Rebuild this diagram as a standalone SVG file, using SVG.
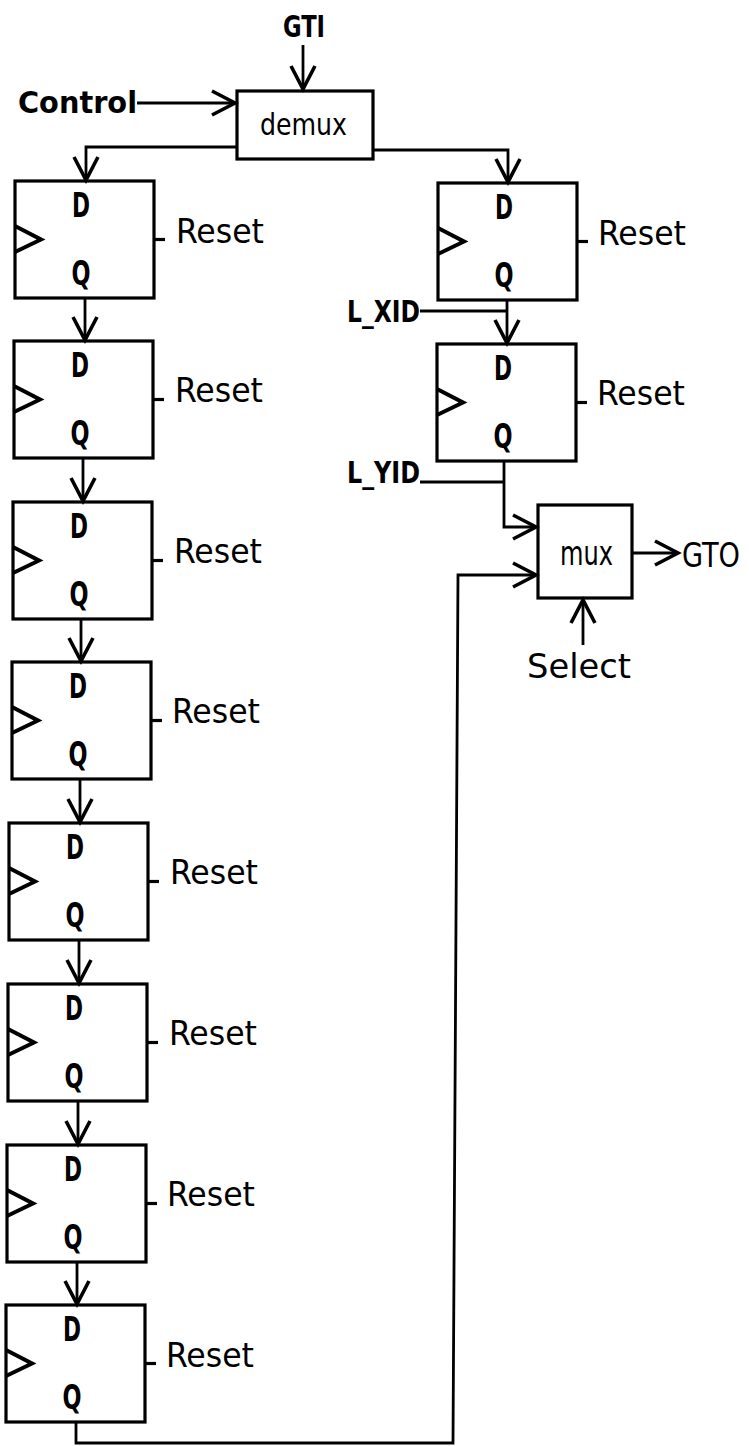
<svg xmlns="http://www.w3.org/2000/svg" width="749" height="1446" viewBox="0 0 749 1446">
<style>
.box{fill:none;stroke:#000;stroke-width:3.2}
.clk{fill:none;stroke:#000;stroke-width:4}
.w{fill:none;stroke:#000;stroke-width:2.8}
.t{font-family:"DejaVu Sans Condensed","DejaVu Sans","Liberation Sans",sans-serif;fill:#000}
.dq{font-size:33px;font-weight:bold;text-anchor:middle}
.rs{font-size:34px}
.lb{font-size:30px;font-weight:bold}
</style>
<defs>
<marker id="ah" markerUnits="userSpaceOnUse" viewBox="-25 -15 30 30" markerWidth="30" markerHeight="30" refX="0" refY="0" orient="auto" overflow="visible">
<path d="M-23,-12 L0,0 L-23,12" fill="none" stroke="#000" stroke-width="3.6"/>
</marker>
<g id="ff">
<rect class="box" x="0" y="0" width="139" height="117"/>
<path class="clk" d="M0,45 L26,58.5 L0,71"/>
<path class="box" d="M139,58.5 H150"/>
<text class="t dq" x="66" y="36" textLength="18" lengthAdjust="spacingAndGlyphs">D</text>
<text class="t dq" x="66" y="104" textLength="19" lengthAdjust="spacingAndGlyphs">Q</text>
</g>
</defs>

<g id="input-labels">
<text class="t lb" x="283" y="37" textLength="42" lengthAdjust="spacingAndGlyphs">GTI</text>
<text class="t lb" x="18" y="113" font-size="32" textLength="119" lengthAdjust="spacingAndGlyphs">Control</text>
</g>

<g id="demux">
<rect class="box" x="237" y="91" width="136" height="68"/>
<text class="t" x="260" y="135" font-size="30" textLength="87" lengthAdjust="spacingAndGlyphs">demux</text>
</g>

<g id="ff1"><use href="#ff" x="15" y="181"/><text class="t rs" x="176" y="243" textLength="88" lengthAdjust="spacingAndGlyphs">Reset</text></g>
<g id="ff2"><use href="#ff" x="14" y="341"/><text class="t rs" x="175" y="402" textLength="88" lengthAdjust="spacingAndGlyphs">Reset</text></g>
<g id="ff3"><use href="#ff" x="13" y="502"/><text class="t rs" x="174" y="563" textLength="88" lengthAdjust="spacingAndGlyphs">Reset</text></g>
<g id="ff4"><use href="#ff" x="12" y="662"/><text class="t rs" x="172" y="723" textLength="88" lengthAdjust="spacingAndGlyphs">Reset</text></g>
<g id="ff5"><use href="#ff" x="9" y="823"/><text class="t rs" x="170" y="884" textLength="88" lengthAdjust="spacingAndGlyphs">Reset</text></g>
<g id="ff6"><use href="#ff" x="8" y="984"/><text class="t rs" x="169" y="1045" textLength="88" lengthAdjust="spacingAndGlyphs">Reset</text></g>
<g id="ff7"><use href="#ff" x="7" y="1145"/><text class="t rs" x="167" y="1206" textLength="88" lengthAdjust="spacingAndGlyphs">Reset</text></g>
<g id="ff8"><use href="#ff" x="6" y="1305"/><text class="t rs" x="166" y="1367" textLength="88" lengthAdjust="spacingAndGlyphs">Reset</text></g>

<g id="ffR1"><use href="#ff" x="438" y="183"/><text class="t rs" x="598" y="245" textLength="88" lengthAdjust="spacingAndGlyphs">Reset</text></g>
<g id="ffR2"><use href="#ff" x="437" y="344"/><text class="t rs" x="597" y="405" textLength="88" lengthAdjust="spacingAndGlyphs">Reset</text></g>

<g id="mux">
<rect class="box" x="538" y="505" width="94" height="93"/>
<text class="t" x="560" y="565" font-size="33" textLength="53" lengthAdjust="spacingAndGlyphs">mux</text>
</g>

<g id="side-labels">
<text class="t lb" x="347" y="322" font-size="27" textLength="73" lengthAdjust="spacingAndGlyphs">L_XID</text>
<text class="t lb" x="347" y="483" font-size="27" textLength="73" lengthAdjust="spacingAndGlyphs">L_YID</text>
<text class="t" x="682" y="567" font-size="33" textLength="58" lengthAdjust="spacingAndGlyphs">GTO</text>
<text class="t" x="527" y="678" font-size="34" textLength="104" lengthAdjust="spacingAndGlyphs">Select</text>
</g>

<g id="connectors">
<path class="w" d="M303,45 V89" marker-end="url(#ah)"/>
<path class="w" d="M137,103 H235" marker-end="url(#ah)"/>
<path class="w" d="M237,147 H86 V180" marker-end="url(#ah)"/>
<path class="w" d="M373,150 H508 V182" marker-end="url(#ah)"/>
<path class="w" d="M85,298 V340" marker-end="url(#ah)"/>
<path class="w" d="M83,458 V501" marker-end="url(#ah)"/>
<path class="w" d="M81,619 V661" marker-end="url(#ah)"/>
<path class="w" d="M80,779 V822" marker-end="url(#ah)"/>
<path class="w" d="M79,940 V983" marker-end="url(#ah)"/>
<path class="w" d="M78,1101 V1144" marker-end="url(#ah)"/>
<path class="w" d="M77,1262 V1304" marker-end="url(#ah)"/>
<path class="w" d="M507,300 V343" marker-end="url(#ah)"/>
<path class="w" d="M420,311 H507"/>
<path class="w" d="M504,461 V527 H536" marker-end="url(#ah)"/>
<path class="w" d="M420,482 H504"/>
<path class="w" d="M76,1422 V1443 H453 L458,575 H536" marker-end="url(#ah)"/>
<path class="w" d="M632,553 H678" marker-end="url(#ah)"/>
<path class="w" d="M583,645 V600" marker-end="url(#ah)"/>
</g>
</svg>
